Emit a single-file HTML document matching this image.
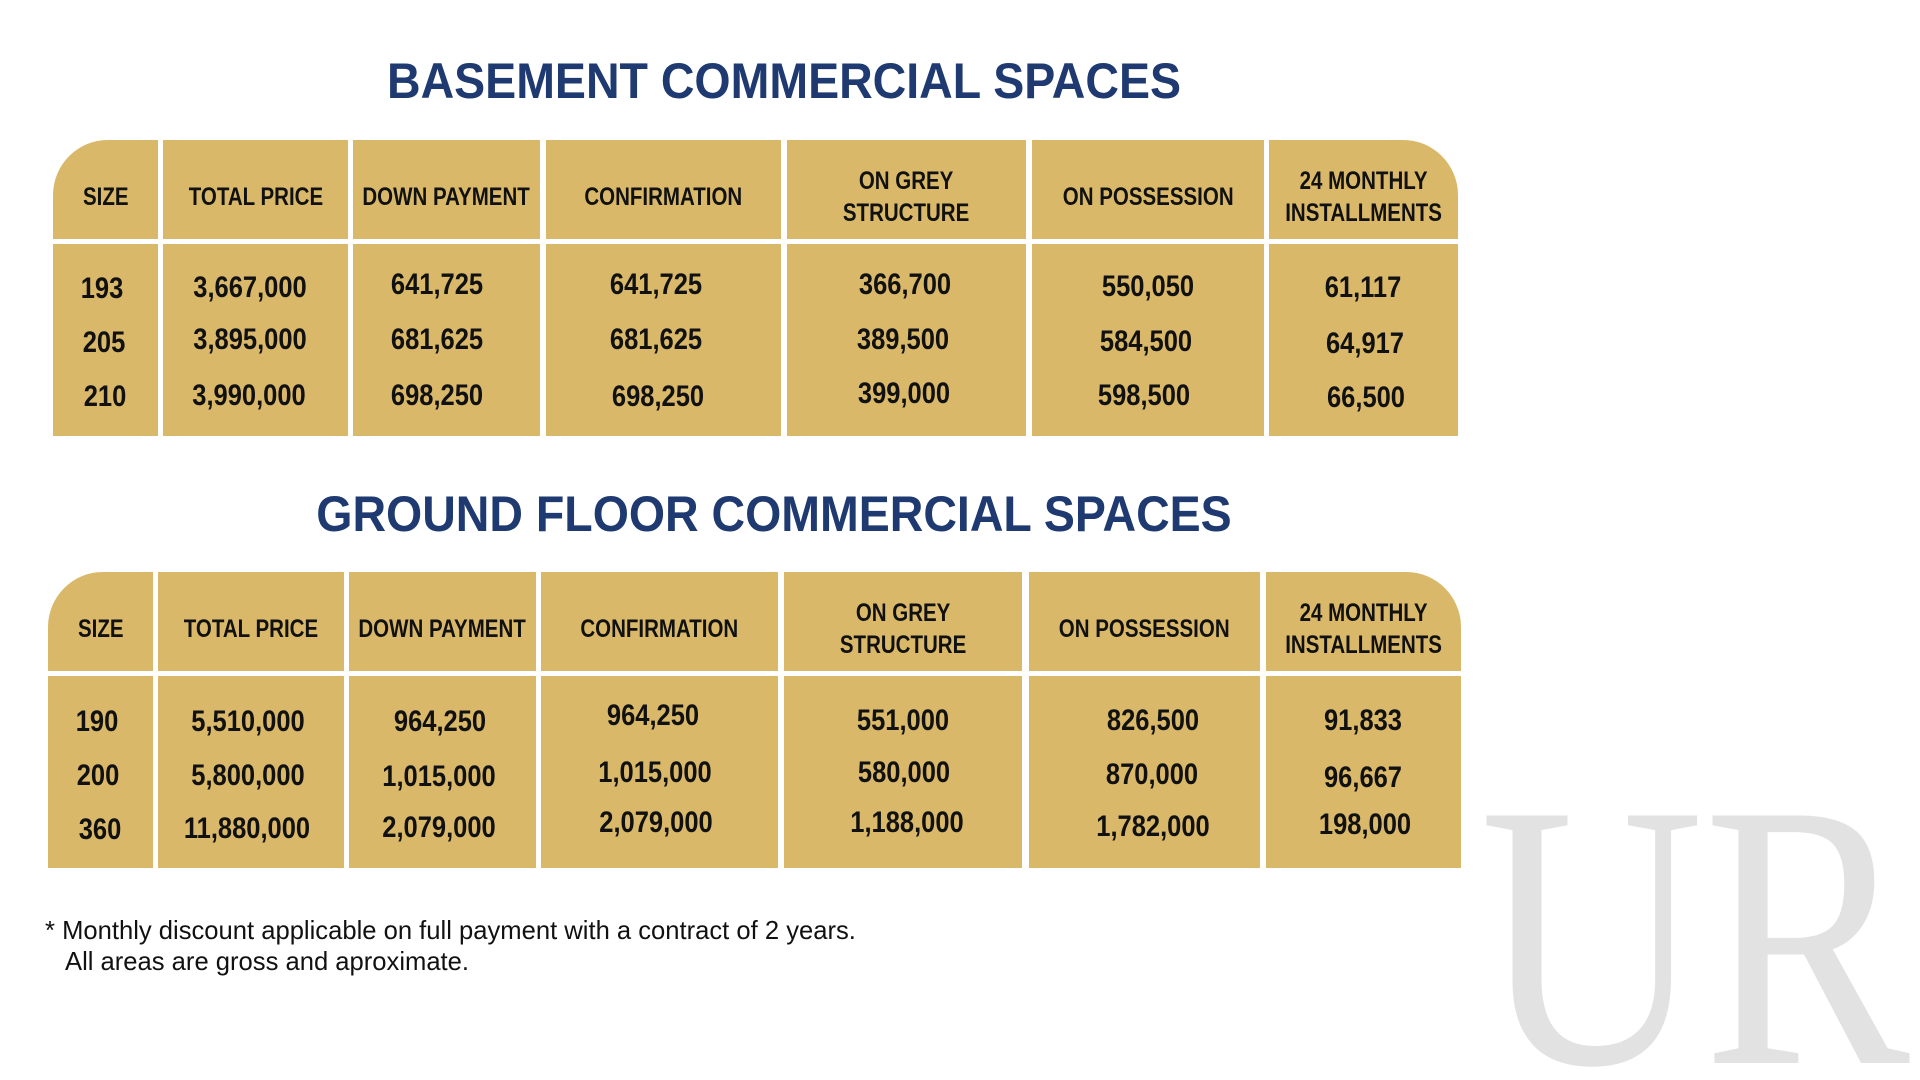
<!DOCTYPE html>
<html><head><meta charset="utf-8"><style>
html,body{margin:0;width:1920px;height:1080px;overflow:hidden}
body{background:#fff;position:relative;font-family:"Liberation Sans",Arial,sans-serif}
.t{position:absolute;color:#1f3a70;font-weight:bold;font-size:50px;white-space:nowrap;transform:translateX(-50%) scaleX(.93)}
.c{position:absolute;background:#d9b869;display:flex;align-items:center;justify-content:center;text-align:center;box-sizing:border-box}
.h{padding-top:14px}
.h span{display:inline-block;font-weight:bold;font-size:25px;line-height:32px;color:#111;transform:scaleX(.82);white-space:nowrap}
.n{position:absolute;transform:translate(-50%,-50%) scaleX(.85);font-weight:bold;font-size:30px;color:#111;white-space:nowrap}
.f{position:absolute;font-size:25.6px;color:#111;white-space:nowrap}
</style></head><body>
<div class="t" style="left:784px;top:52px">BASEMENT COMMERCIAL SPACES</div>
<div class="t" style="left:774px;top:485px">GROUND FLOOR COMMERCIAL SPACES</div>

<div class="c h" style="left:53px;top:140px;width:105px;height:99px;border-top-left-radius:55px"><span>SIZE</span></div>
<div class="c h" style="left:163px;top:140px;width:185px;height:99px"><span>TOTAL PRICE</span></div>
<div class="c h" style="left:353px;top:140px;width:187px;height:99px"><span>DOWN PAYMENT</span></div>
<div class="c h" style="left:546px;top:140px;width:235px;height:99px"><span>CONFIRMATION</span></div>
<div class="c h" style="left:787px;top:140px;width:239px;height:99px"><span>ON GREY<br>STRUCTURE</span></div>
<div class="c h" style="left:1032px;top:140px;width:232px;height:99px"><span>ON POSSESSION</span></div>
<div class="c h" style="left:1269px;top:140px;width:189px;height:99px;border-top-right-radius:55px"><span>24 MONTHLY<br>INSTALLMENTS</span></div>
<div class="c" style="left:53px;top:244px;width:105px;height:192px"></div>
<div class="c" style="left:163px;top:244px;width:185px;height:192px"></div>
<div class="c" style="left:353px;top:244px;width:187px;height:192px"></div>
<div class="c" style="left:546px;top:244px;width:235px;height:192px"></div>
<div class="c" style="left:787px;top:244px;width:239px;height:192px"></div>
<div class="c" style="left:1032px;top:244px;width:232px;height:192px"></div>
<div class="c" style="left:1269px;top:244px;width:189px;height:192px"></div>

<div class="n" style="left:102px;top:289px">193</div><div class="n" style="left:104px;top:343px">205</div><div class="n" style="left:105px;top:397px">210</div>
<div class="n" style="left:250px;top:288px">3,667,000</div><div class="n" style="left:250px;top:340px">3,895,000</div><div class="n" style="left:249px;top:396px">3,990,000</div>
<div class="n" style="left:437px;top:285px">641,725</div><div class="n" style="left:437px;top:340px">681,625</div><div class="n" style="left:437px;top:396px">698,250</div>
<div class="n" style="left:656px;top:285px">641,725</div><div class="n" style="left:656px;top:340px">681,625</div><div class="n" style="left:658px;top:397px">698,250</div>
<div class="n" style="left:905px;top:285px">366,700</div><div class="n" style="left:903px;top:340px">389,500</div><div class="n" style="left:904px;top:394px">399,000</div>
<div class="n" style="left:1148px;top:287px">550,050</div><div class="n" style="left:1146px;top:342px">584,500</div><div class="n" style="left:1144px;top:396px">598,500</div>
<div class="n" style="left:1363px;top:288px">61,117</div><div class="n" style="left:1365px;top:344px">64,917</div><div class="n" style="left:1366px;top:398px">66,500</div>

<div class="c h" style="left:48px;top:572px;width:105px;height:99px;border-top-left-radius:55px"><span>SIZE</span></div>
<div class="c h" style="left:158px;top:572px;width:186px;height:99px"><span>TOTAL PRICE</span></div>
<div class="c h" style="left:349px;top:572px;width:187px;height:99px"><span>DOWN PAYMENT</span></div>
<div class="c h" style="left:541px;top:572px;width:237px;height:99px"><span>CONFIRMATION</span></div>
<div class="c h" style="left:784px;top:572px;width:238px;height:99px"><span>ON GREY<br>STRUCTURE</span></div>
<div class="c h" style="left:1029px;top:572px;width:231px;height:99px"><span>ON POSSESSION</span></div>
<div class="c h" style="left:1266px;top:572px;width:195px;height:99px;border-top-right-radius:55px"><span>24 MONTHLY<br>INSTALLMENTS</span></div>
<div class="c" style="left:48px;top:676px;width:105px;height:192px"></div>
<div class="c" style="left:158px;top:676px;width:186px;height:192px"></div>
<div class="c" style="left:349px;top:676px;width:187px;height:192px"></div>
<div class="c" style="left:541px;top:676px;width:237px;height:192px"></div>
<div class="c" style="left:784px;top:676px;width:238px;height:192px"></div>
<div class="c" style="left:1029px;top:676px;width:231px;height:192px"></div>
<div class="c" style="left:1266px;top:676px;width:195px;height:192px"></div>

<div class="n" style="left:97px;top:722px">190</div><div class="n" style="left:98px;top:776px">200</div><div class="n" style="left:100px;top:830px">360</div>
<div class="n" style="left:248px;top:722px">5,510,000</div><div class="n" style="left:248px;top:776px">5,800,000</div><div class="n" style="left:247px;top:829px">11,880,000</div>
<div class="n" style="left:440px;top:722px">964,250</div><div class="n" style="left:439px;top:777px">1,015,000</div><div class="n" style="left:439px;top:828px">2,079,000</div>
<div class="n" style="left:653px;top:716px">964,250</div><div class="n" style="left:655px;top:773px">1,015,000</div><div class="n" style="left:656px;top:823px">2,079,000</div>
<div class="n" style="left:903px;top:721px">551,000</div><div class="n" style="left:904px;top:773px">580,000</div><div class="n" style="left:907px;top:823px">1,188,000</div>
<div class="n" style="left:1153px;top:721px">826,500</div><div class="n" style="left:1152px;top:775px">870,000</div><div class="n" style="left:1153px;top:827px">1,782,000</div>
<div class="n" style="left:1363px;top:721px">91,833</div><div class="n" style="left:1363px;top:778px">96,667</div><div class="n" style="left:1365px;top:825px">198,000</div>

<div class="f" style="left:45px;top:917px">* Monthly discount applicable on full payment with a contract of 2 years.</div>
<div class="f" style="left:65px;top:948px">All areas are gross and aproximate.</div>

<svg style="position:absolute;left:0;top:0;display:block;overflow:hidden" width="1920" height="1080">
<text x="1480" y="1063" font-family="Liberation Serif,serif" font-size="378" fill="#e2e2e2" textLength="430" lengthAdjust="spacingAndGlyphs">UR</text>
</svg>
</body></html>
